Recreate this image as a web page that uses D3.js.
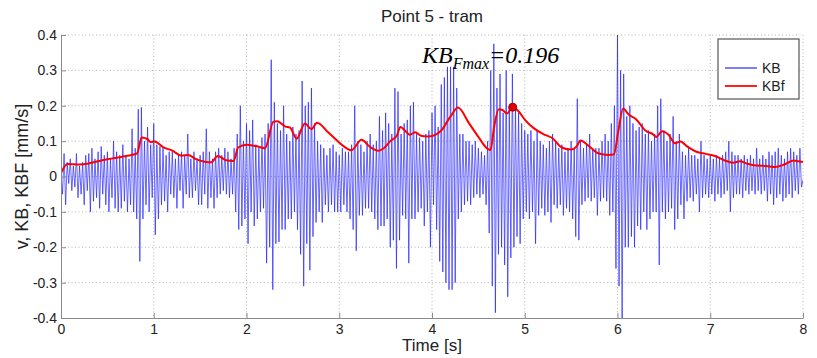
<!DOCTYPE html>
<html>
<head>
<meta charset="utf-8">
<script src="https://cdn.jsdelivr.net/npm/d3@7"></script>
<style>
  body { margin: 0; background: #fff; }
  svg { display: block; font-family: Arial, "Liberation Sans", sans-serif; }
</style>
</head>
<body>
<svg id="chart" width="817" height="358"></svg>
<script>
const kbStep = 1 / 60;
const kbValues = [
  0.01,-0.05,0.065,-0.08,0.04,-0.02, 0.05,-0.04,0.03,-0.03,0.065,-0.06, 0.03,-0.05,0.04,-0.08,0.06,-0.04, 0.065,-0.1,0.08,-0.07,0.05,-0.06, 0.07,-0.09,0.085,-0.05,0.06,-0.08, 0.07,-0.1,0.05,-0.06,0.1,-0.09, 0.07,-0.1,0.06,-0.09,0.09,-0.07, 0.06,-0.1,0.05,-0.08,0.135,-0.1, 0.08,-0.12,0.19,-0.24,0.195,-0.12, 0.1,-0.08,0.14,-0.1,0.09,-0.06,
  0.15,-0.165,0.09,-0.12,0.085,-0.08, 0.08,-0.07,0.06,-0.1,0.07,-0.05, 0.07,-0.06,0.05,-0.09,0.06,-0.04, 0.07,-0.09,0.06,-0.05,0.12,-0.06, 0.05,-0.06,0.07,-0.04,0.05,-0.08, 0.06,-0.08,0.07,-0.05,0.135,-0.09, 0.07,-0.06,0.05,-0.09,0.07,-0.06, 0.08,-0.05,0.06,-0.04,0.08,-0.05, 0.07,-0.06,0.05,-0.05,0.08,-0.1, 0.12,-0.15,0.2,-0.14,0.1,-0.12,
  0.15,-0.19,0.13,-0.1,0.16,-0.14, 0.09,-0.12,0.08,-0.1,0.11,-0.09, 0.12,-0.245,0.15,-0.2,0.33,-0.32, 0.21,-0.19,0.15,-0.185,0.13,-0.15, 0.2,-0.15,0.12,-0.12,0.1,-0.12, 0.14,-0.1,0.12,-0.15,0.13,-0.22, 0.27,-0.31,0.2,-0.19,0.21,-0.265, 0.25,-0.17,0.15,-0.13,0.1,-0.1, 0.09,-0.13,0.08,-0.08,0.06,-0.1, 0.08,-0.08,0.09,-0.1,0.07,-0.1,
  0.06,-0.1,0.08,-0.08,0.07,-0.1, 0.07,-0.12,0.09,-0.15,0.2,-0.21, 0.1,-0.11,0.09,-0.11,0.07,-0.09, 0.1,-0.09,0.12,-0.1,0.09,-0.12, 0.1,-0.15,0.17,-0.14,0.13,-0.14, 0.18,-0.12,0.15,-0.2,0.12,-0.18, 0.25,-0.26,0.24,-0.18,0.12,-0.11, 0.15,-0.12,0.16,-0.245,0.2,-0.12, 0.21,-0.12,0.12,-0.1,0.11,-0.09, 0.1,-0.14,0.12,-0.1,0.13,-0.2,
  0.18,-0.08,0.2,-0.15,0.14,-0.24, 0.26,-0.27,0.28,-0.3,0.31,-0.32, 0.31,-0.32,0.31,-0.3,0.25,-0.12, 0.12,-0.1,0.12,-0.08,0.1,-0.07, 0.1,-0.08,0.09,-0.06,0.1,-0.05, 0.08,-0.06,0.07,-0.05,0.06,-0.08, 0.1,-0.16,0.3,-0.31,0.375,-0.385, 0.25,-0.22,0.29,-0.2,0.18,-0.25, 0.3,-0.34,0.2,-0.23,0.29,-0.2, 0.2,-0.17,0.18,-0.19,0.15,-0.12,
  0.13,-0.1,0.12,-0.12,0.13,-0.1, 0.1,-0.19,0.13,-0.11,0.1,-0.09, 0.09,-0.11,0.08,-0.1,0.1,-0.13, 0.12,-0.08,0.1,-0.09,0.08,-0.08, 0.09,-0.11,0.07,-0.09,0.08,-0.1, 0.1,-0.12,0.08,-0.17,0.22,-0.18, 0.1,-0.08,0.08,-0.07,0.09,-0.06, 0.12,-0.07,0.08,-0.06,0.08,-0.11, 0.08,-0.07,0.1,-0.06,0.12,-0.07, 0.1,-0.11,0.15,-0.1,0.2,-0.26,
  0.4,-0.31,0.3,-0.42,0.29,-0.2, 0.17,-0.2,0.2,-0.17,0.15,-0.2, 0.13,-0.14,0.14,-0.15,0.15,-0.1, 0.12,-0.15,0.13,-0.12,0.1,-0.1, 0.12,-0.1,0.2,-0.25,0.22,-0.1, 0.13,-0.12,0.1,-0.1,0.12,-0.09, 0.17,-0.15,0.1,-0.12,0.12,-0.08, 0.07,-0.12,0.06,-0.07,0.08,-0.06, 0.06,-0.07,0.06,-0.05,0.05,-0.1, 0.1,-0.06,0.06,-0.05,0.05,-0.06,
  0.06,-0.05,0.05,-0.07,0.06,-0.05, 0.05,-0.06,0.06,-0.05,0.07,-0.04, 0.1,-0.1,0.07,-0.06,0.06,-0.05, 0.06,-0.05,0.05,-0.06,0.06,-0.04, 0.05,-0.05,0.06,-0.04,0.05,-0.05, 0.08,-0.04,0.05,-0.05,0.06,-0.04, 0.05,-0.07,0.07,-0.05,0.06,-0.08, 0.07,-0.06,0.08,-0.05,0.06,-0.07, 0.05,-0.06,0.07,-0.05,0.08,-0.06, 0.07,-0.04,0.06,-0.05,0.08,-0.03,
  -0.01
];

// KBf (filtered envelope)
const kbfTimes = [0,0.07,0.2,0.3,0.4,0.5,0.6,0.7,0.82,0.87,0.93,0.97,1.01,1.1,1.2,1.3,1.37,1.45,1.55,1.62,1.69,1.78,1.86,1.91,
  2,2.1,2.2,2.29,2.33,2.42,2.47,2.54,2.63,2.7,2.76,2.88,2.97,3.05,3.13,3.24,3.33,3.42,3.48,3.55,3.62,3.66,3.7,3.76,3.82,3.88,3.95,
  4.02,4.1,4.2,4.28,4.4,4.5,4.6,4.63,4.67,4.72,4.76,4.81,4.87,4.93,5,5.1,5.2,5.3,5.4,5.5,5.56,5.6,5.7,5.8,5.9,5.96,
  6.01,6.06,6.12,6.2,6.3,6.38,6.42,6.48,6.55,6.62,6.68,6.75,6.85,6.95,7.05,7.15,7.25,7.32,7.4,7.5,7.6,7.7,7.8,7.9,7.95,8];
const kbfValues = [0.01,0.035,0.034,0.037,0.043,0.049,0.053,0.058,0.065,0.11,0.106,0.097,0.099,0.083,0.073,0.059,0.061,0.05,0.042,0.04,0.058,0.046,0.044,0.082,
  0.09,0.086,0.08,0.155,0.156,0.141,0.138,0.107,0.15,0.134,0.152,0.125,0.103,0.085,0.074,0.104,0.084,0.073,0.08,0.1,0.115,0.14,0.132,0.118,0.125,0.115,0.113,
  0.116,0.13,0.17,0.195,0.15,0.112,0.078,0.075,0.14,0.19,0.188,0.178,0.196,0.185,0.161,0.136,0.12,0.108,0.082,0.076,0.085,0.102,0.084,0.065,0.061,0.062,
  0.13,0.192,0.175,0.162,0.13,0.12,0.112,0.128,0.118,0.094,0.099,0.085,0.07,0.064,0.058,0.046,0.039,0.043,0.036,0.031,0.03,0.027,0.034,0.045,0.043,0.041];

const xTicks = [0, 1, 2, 3, 4, 5, 6, 7, 8];
const yTicks = [-0.4, -0.3, -0.2, -0.1, 0, 0.1, 0.2, 0.3, 0.4];
const yTickLabels = ['-0.4', '-0.3', '-0.2', '-0.1', '0', '0.1', '0.2', '0.3', '0.4'];
const legendLabels = ['KB', 'KBf'];
const peakTime = 4.87;
const peakValue = 0.196;

const margin = { top: 35, right: 14, bottom: 40, left: 61 };
const W = 817, H = 358;
const width = W - margin.left - margin.right;
const height = H - margin.top - margin.bottom;

const svg = d3.select('#chart');
const g = svg.append('g').attr('transform', `translate(${margin.left},${margin.top})`);

const x = d3.scaleLinear().domain([0, 8]).range([0, width]);
const y = d3.scaleLinear().domain([-0.4, 0.4]).range([height, 0]);

// dotted grid
g.append('g')
  .selectAll('line')
  .data(xTicks.slice(1))
  .join('line')
    .attr('x1', d => x(d)).attr('x2', d => x(d))
    .attr('y1', 0).attr('y2', height)
    .attr('stroke', '#b4b4b4').attr('stroke-dasharray', '1,2.5');
g.append('g')
  .selectAll('line')
  .data(yTicks.slice(1))
  .join('line')
    .attr('x1', 0).attr('x2', width)
    .attr('y1', d => y(d)).attr('y2', d => y(d))
    .attr('stroke', '#b4b4b4').attr('stroke-dasharray', '1,2.5');

svg.append('defs').append('clipPath').attr('id', 'plotClip')
  .append('rect').attr('width', width).attr('height', height);

const plot = g.append('g').attr('clip-path', 'url(#plotClip)');

const kbLine = d3.line()
  .x((d, i) => x(i * kbStep))
  .y(d => y(d));
plot.append('path')
  .datum(kbValues)
  .attr('fill', 'none')
  .attr('stroke', '#2020ff')
  .attr('stroke-opacity', 0.68)
  .attr('stroke-width', 1)
  .attr('d', kbLine);

const kbfLine = d3.line()
  .x((d, i) => x(kbfTimes[i]))
  .y(d => y(d))
  .curve(d3.curveMonotoneX);
plot.append('path')
  .datum(kbfValues)
  .attr('fill', 'none')
  .attr('stroke', '#ff0000')
  .attr('stroke-width', 2)
  .attr('stroke-linejoin', 'round')
  .attr('d', kbfLine);

g.append('circle')
  .attr('cx', x(peakTime))
  .attr('cy', y(peakValue))
  .attr('r', 4)
  .attr('fill', '#dd0000')
  .attr('stroke', '#aa0000')
  .attr('stroke-width', 1);

// axes
g.append('g')
  .attr('transform', `translate(0,${height})`)
  .call(d3.axisBottom(x).tickValues(xTicks).tickFormat(d3.format('d')).tickSize(-5).tickSizeOuter(0).tickPadding(6))
  .call(s => s.select('.domain').attr('stroke', '#8a8a8a'))
  .call(s => s.selectAll('.tick line').attr('stroke', '#8a8a8a'))
  .call(s => s.selectAll('text').attr('fill', '#222').style('font-size', '14px'));

g.append('g')
  .call(d3.axisLeft(y).tickValues(yTicks).tickFormat((d, i) => yTickLabels[i]).tickSize(-5).tickSizeOuter(0).tickPadding(4))
  .call(s => s.select('.domain').attr('stroke', '#8a8a8a'))
  .call(s => s.selectAll('.tick line').attr('stroke', '#8a8a8a'))
  .call(s => s.selectAll('text').attr('fill', '#222').style('font-size', '14px'));

// titles
svg.append('text')
  .attr('x', margin.left + width / 2).attr('y', 22)
  .attr('text-anchor', 'middle')
  .attr('fill', '#222')
  .style('font-size', '17px')
  .text('Point 5 - tram');

svg.append('text')
  .attr('x', margin.left + width / 2).attr('y', 351)
  .attr('text-anchor', 'middle')
  .attr('fill', '#222')
  .style('font-size', '17px')
  .text('Time [s]');

svg.append('text')
  .attr('transform', `translate(28,${margin.top + height / 2}) rotate(-90)`)
  .attr('text-anchor', 'middle')
  .attr('fill', '#222')
  .style('font-size', '18px')
  .text('v, KB, KBF [mm/s]');

// annotation
const note = svg.append('text')
  .attr('x', 422).attr('y', 63)
  .attr('font-family', '"Liberation Serif", "Times New Roman", serif')
  .attr('font-style', 'italic')
  .attr('fill', '#000')
  .style('font-size', '24px');
note.append('tspan').text('KB');
note.append('tspan').attr('dy', 6).style('font-size', '16px').text('Fmax');
note.append('tspan').attr('dy', -6).text('=0.196');

// legend
const legend = svg.append('g').attr('transform', 'translate(718,39)');
legend.append('rect')
  .attr('width', 81).attr('height', 60)
  .attr('fill', '#fff')
  .attr('stroke', '#555').attr('stroke-width', 1.2);
const legendColors = ['#8080ff', '#ff2020'];
legendLabels.forEach((label, i) => {
  const ly = 29 + i * 18;
  legend.append('line')
    .attr('x1', 7).attr('x2', 39).attr('y1', ly).attr('y2', ly)
    .attr('stroke', legendColors[i]).attr('stroke-width', 2);
  legend.append('text')
    .attr('x', 44).attr('y', ly + 5)
    .attr('fill', '#222')
    .style('font-size', '14px')
    .text(label);
});
</script>
</body>
</html>
